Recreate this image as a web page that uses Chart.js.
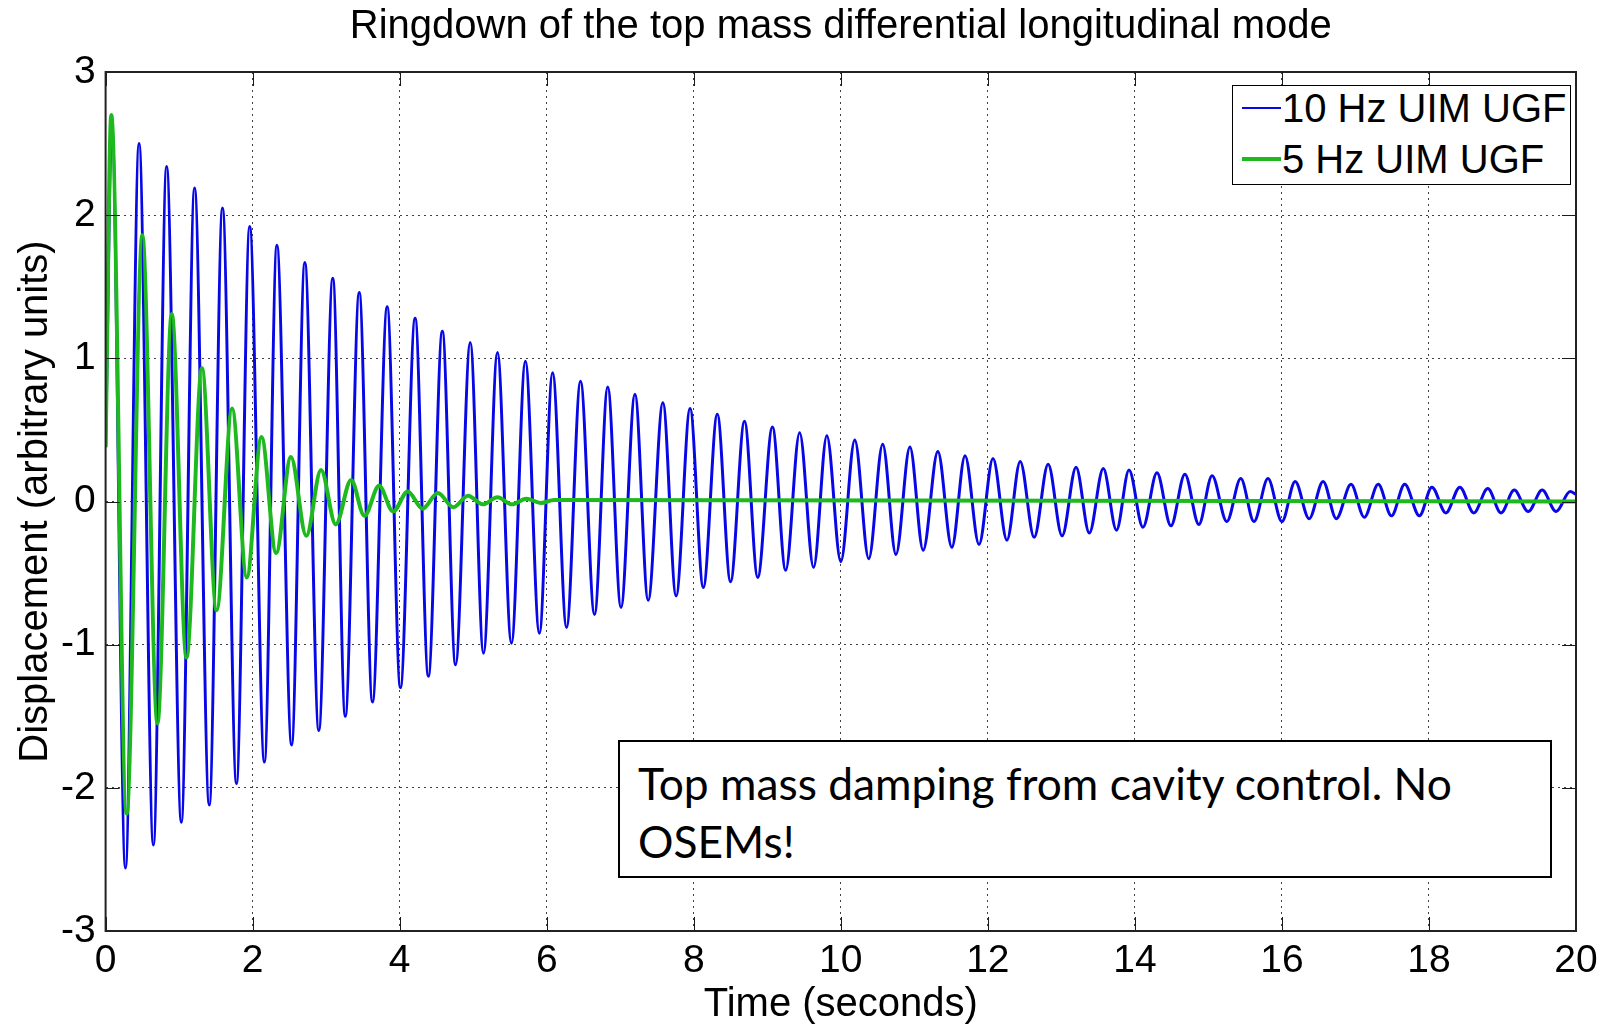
<!DOCTYPE html>
<html>
<head>
<meta charset="utf-8">
<script src="https://cdn.jsdelivr.net/npm/chart.js@4.4.1/dist/chart.umd.min.js"></script>
<style>
  html, body { margin: 0; padding: 0; background: #fff; }
  #wrap { position: relative; width: 1608px; height: 1029px; overflow: hidden; }
  #c { position: absolute; left: 0; top: 0; }
  #legend { position: absolute; left: 1232px; top: 85px; width: 337px; height: 98px;
            border: 1px solid #000; background: #fff; box-sizing: content-box; }
  .lrow { position: absolute; left: 0; height: 46px; width: 337px;
          font-family: 'Liberation Sans', Arial, Helvetica, sans-serif; font-size: 40px; line-height: 46px; color: #000; white-space: nowrap; }
  .lline { position: absolute; left: 9px; width: 39px; }
  .ltext { position: absolute; left: 49px; top: 0; }
  #note { position: absolute; left: 618px; top: 740px; width: 930px; height: 134px;
          border: 2px solid #000; background: #fff; box-sizing: content-box;
          font-family: Lato, 'Open Sans', sans-serif; color: #000; }
  #note .nl { position: absolute; left: 18px; white-space: nowrap; line-height: 58px; height: 58px; }
</style>
</head>
<body>
<div id="wrap">
  <canvas id="c" width="1608" height="1029"></canvas>
  <div id="legend"></div>
  <div id="note"><div class="nl" style="top:12px">Top mass damping from cavity control. No</div><div class="nl" style="top:70px">OSEMs!</div></div>
</div>
<script>
// ---- data (extrema of each ringdown) ----
const seriesLabels = ['10 Hz UIM UGF', '5 Hz UIM UGF'];

const blueTimes = [0, 0.085, 0.27, 0.455, 0.65, 0.83, 1.03, 1.21, 1.41, 1.59, 1.78, 1.96, 2.16, 2.33, 2.53, 2.71, 2.90, 3.09, 3.26, 3.45,
  3.63, 3.83, 4.01, 4.21, 4.39, 4.58, 4.76, 4.96, 5.14, 5.33, 5.52, 5.71, 5.90, 6.08, 6.27, 6.46, 6.65, 6.83, 7.01, 7.20,
  7.38, 7.58, 7.76, 7.95, 8.13, 8.32, 8.50, 8.69, 8.87, 9.07, 9.25, 9.44, 9.63, 9.81, 10.00, 10.19, 10.38, 10.57, 10.75, 10.94,
  11.12, 11.32, 11.51, 11.69, 11.88, 12.07, 12.26, 12.44, 12.63, 12.82, 13.01, 13.20, 13.38, 13.57, 13.75, 13.92, 14.11, 14.30, 14.49, 14.68,
  14.87, 15.05, 15.25, 15.44, 15.62, 15.81, 16.00, 16.18, 16.37, 16.56, 16.74, 16.94, 17.12, 17.31, 17.49, 17.67, 17.87, 18.04, 18.23, 18.42,
  18.61, 18.80, 18.98, 19.16, 19.35, 19.54, 19.73, 19.92, 20.0];
const blueValues = [0.38, 2.62, -2.56, 2.50, -2.40, 2.34, -2.24, 2.19, -2.12, 2.05, -1.97, 1.92, -1.82, 1.79, -1.70, 1.67, -1.60, 1.56, -1.50, 1.46,
  -1.40, 1.36, -1.30, 1.28, -1.22, 1.19, -1.14, 1.11, -1.06, 1.04, -0.99, 0.98, -0.92, 0.90, -0.88, 0.84, -0.79, 0.80, -0.74, 0.75,
  -0.69, 0.69, -0.66, 0.65, -0.60, 0.61, -0.56, 0.56, -0.53, 0.52, -0.48, 0.48, -0.46, 0.46, -0.42, 0.43, -0.40, 0.40, -0.37, 0.38,
  -0.34, 0.35, -0.32, 0.32, -0.30, 0.30, -0.27, 0.28, -0.25, 0.26, -0.24, 0.24, -0.22, 0.23, -0.20, 0.22, -0.18, 0.20, -0.17, 0.19,
  -0.16, 0.18, -0.14, 0.16, -0.14, 0.16, -0.14, 0.14, -0.12, 0.14, -0.12, 0.12, -0.11, 0.12, -0.10, 0.12, -0.10, 0.10, -0.08, 0.10,
  -0.08, 0.09, -0.08, 0.08, -0.07, 0.08, -0.07, 0.07, 0.05];

const greenTimes = [0, 0.077, 0.286, 0.50, 0.705, 0.90, 1.10, 1.31, 1.51, 1.72, 1.92, 2.12, 2.32, 2.52, 2.73, 2.93, 3.13, 3.34, 3.52, 3.72,
  3.91, 4.11, 4.31, 4.52, 4.73, 4.93, 5.13, 5.33, 5.53, 5.72, 5.92, 6.10, 20.0];
const greenValues = [0.38, 2.70, -2.18, 1.86, -1.55, 1.31, -1.09, 0.93, -0.76, 0.65, -0.53, 0.45, -0.36, 0.31, -0.24, 0.22, -0.16, 0.15, -0.10, 0.11,
  -0.07, 0.07, -0.05, 0.06, -0.04, 0.04, -0.02, 0.03, -0.02, 0.02, -0.01, 0.01, 0.0];

const xTickValues = [0, 2, 4, 6, 8, 10, 12, 14, 16, 18, 20];
const yTickValues = [-3, -2, -1, 0, 1, 2, 3];

// ---- chart ----
const FONT = "'Liberation Sans', Arial, Helvetica, sans-serif";
Chart.defaults.font.family = FONT;
Chart.defaults.color = '#000';

const toPoints = (ts, vs) => ts.map((t, i) => ({ x: t, y: vs[i] }));

const datasets = [
  { label: seriesLabels[0], data: toPoints(blueTimes, blueValues), borderColor: 'rgb(8,8,230)', borderWidth: 3,
    pointRadius: 0, cubicInterpolationMode: 'monotone', order: 1, fill: false, legendWidth: 1.5 },
  { label: seriesLabels[1], data: toPoints(greenTimes, greenValues), borderColor: 'rgb(30,185,30)', borderWidth: 4,
    pointRadius: 0, cubicInterpolationMode: 'monotone', order: 0, fill: false, legendWidth: 3.5 }
];

const frameAndTicks = {
  id: 'frameAndTicks',
  afterDatasetsDraw(chart) {
    const { ctx, chartArea: a, scales: { x, y } } = chart;
    const L = 14;
    ctx.save();
    ctx.strokeStyle = '#1a1a1a';
    ctx.lineWidth = 1;
    ctx.beginPath();
    x.ticks.forEach(t => {
      const px = Math.round(x.getPixelForValue(t.value)) + 0.5;
      ctx.moveTo(px, a.bottom); ctx.lineTo(px, a.bottom - L);
      ctx.moveTo(px, a.top); ctx.lineTo(px, a.top + L);
    });
    y.ticks.forEach(t => {
      const py = Math.round(y.getPixelForValue(t.value)) + 0.5;
      ctx.moveTo(a.left, py); ctx.lineTo(a.left + L, py);
      ctx.moveTo(a.right, py); ctx.lineTo(a.right - L, py);
    });
    ctx.stroke();
    ctx.lineWidth = 2;
    ctx.strokeStyle = '#222';
    ctx.strokeRect(a.left, a.top, a.right - a.left, a.bottom - a.top);
    ctx.restore();
  }
};

const chart = new Chart(document.getElementById('c'), {
  type: 'line',
  data: { datasets },
  options: {
    responsive: false,
    animation: false,
    events: [],
    layout: { padding: { left: 0, right: 32, top: 0, bottom: 0 } },
    plugins: {
      legend: { display: false },
      tooltip: { enabled: false },
      title: {
        display: true,
        fullSize: false,
        text: 'Ringdown of the top mass differential longitudinal mode',
        font: { family: FONT, size: 40, weight: 'normal' },
        color: '#000',
        padding: { top: 3, bottom: 21 }
      }
    },
    scales: {
      x: {
        type: 'linear', min: 0, max: 20,
        afterBuildTicks: s => { s.ticks = xTickValues.map(v => ({ value: v })); },
        afterFit: s => { s.height = 98; },
        ticks: { font: { size: 39 }, padding: 7, color: '#000', maxRotation: 0 },
        grid: { drawTicks: false, color: 'rgba(0,0,0,0.75)', lineWidth: 1 },
        border: { display: false, dash: [2, 4] },
        title: { display: true, text: 'Time (seconds)', font: { size: 40 }, color: '#000', padding: { top: 0, bottom: 0 } }
      },
      y: {
        type: 'linear', min: -3, max: 3,
        afterBuildTicks: s => { s.ticks = yTickValues.map(v => ({ value: v })); },
        afterFit: s => { s.width = 105.6; },
        ticks: { font: { size: 39 }, padding: 10, color: '#000' },
        grid: { drawTicks: false, color: 'rgba(0,0,0,0.75)', lineWidth: 1 },
        border: { display: false, dash: [2, 4] },
        title: { display: true, text: 'Displacement (arbitrary units)', font: { size: 40 }, color: '#000', padding: { top: 12, bottom: 0 } }
      }
    }
  },
  plugins: [frameAndTicks]
});

// ---- HTML legend built from the datasets ----
const legend = document.getElementById('legend');
[0, 1].forEach(i => {
  const ds = chart.data.datasets[i];
  const row = document.createElement('div');
  row.className = 'lrow';
  row.style.top = (i === 0 ? -1 : 50) + 'px';
  const line = document.createElement('div');
  line.className = 'lline';
  line.style.height = ds.legendWidth + 'px';
  line.style.top = (23 - ds.legendWidth / 2) + 'px';
  line.style.background = ds.borderColor;
  const txt = document.createElement('div');
  txt.className = 'ltext';
  txt.textContent = ds.label;
  row.appendChild(line); row.appendChild(txt);
  legend.appendChild(row);
});

// ---- fit annotation text width to the reference line length ----
(function () {
  const target = 815;
  const ctx = document.createElement('canvas').getContext('2d');
  ctx.font = "48px Lato, 'Open Sans', sans-serif";
  const w = ctx.measureText('Top mass damping from cavity control. No').width;
  const fs = 48 * target / w;
  document.querySelectorAll('#note .nl').forEach(el => { el.style.fontSize = fs.toFixed(1) + 'px'; });
})();
</script>
</body>
</html>
